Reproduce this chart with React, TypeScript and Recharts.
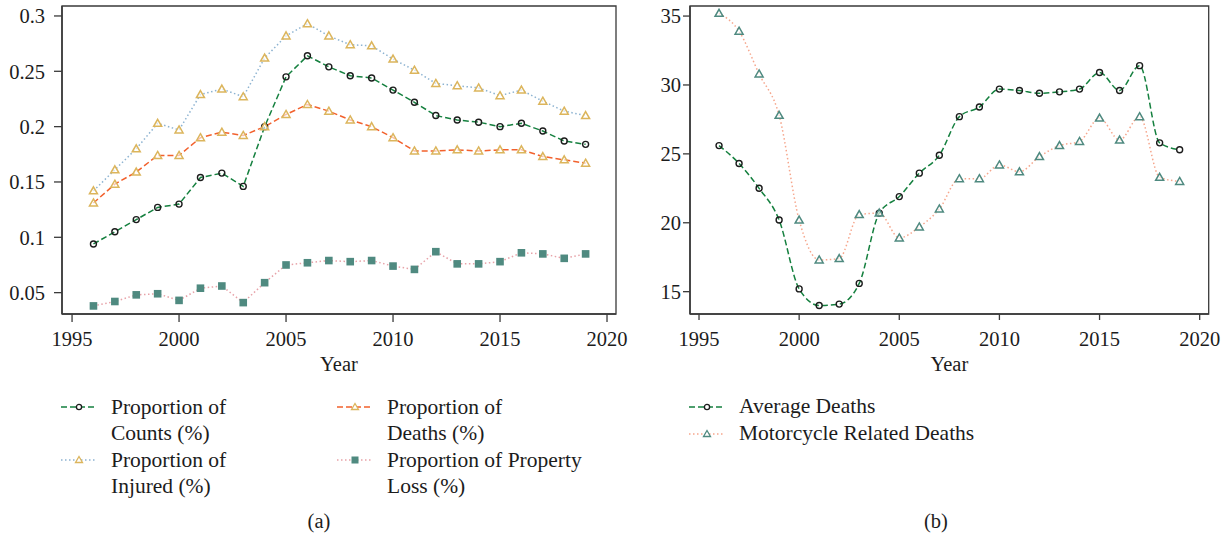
import React from 'react'
import { LineChart, Line, XAxis, YAxis, ReferenceArea } from 'recharts'

// years on both panels
const years = [1996, 1997, 1998, 1999, 2000, 2001, 2002, 2003, 2004, 2005, 2006, 2007, 2008, 2009, 2010, 2011, 2012, 2013, 2014, 2015, 2016, 2017, 2018, 2019]
const yearTicks = [1995, 2000, 2005, 2010, 2015, 2020]

// panel (a)
const countsProp = [0.094, 0.105, 0.116, 0.127, 0.130, 0.154, 0.158, 0.146, 0.200, 0.245, 0.264, 0.254, 0.246, 0.244, 0.233, 0.222, 0.210, 0.206, 0.204, 0.200, 0.203, 0.196, 0.187, 0.184]
const deathsProp = [0.131, 0.148, 0.159, 0.174, 0.174, 0.190, 0.195, 0.192, 0.200, 0.211, 0.220, 0.214, 0.206, 0.200, 0.190, 0.178, 0.178, 0.179, 0.178, 0.179, 0.179, 0.173, 0.170, 0.167]
const injuredProp = [0.142, 0.161, 0.180, 0.203, 0.197, 0.229, 0.234, 0.227, 0.262, 0.282, 0.293, 0.282, 0.274, 0.273, 0.261, 0.251, 0.239, 0.237, 0.235, 0.228, 0.233, 0.223, 0.214, 0.210]
const lossProp = [0.038, 0.042, 0.048, 0.049, 0.043, 0.054, 0.056, 0.041, 0.059, 0.075, 0.077, 0.079, 0.078, 0.079, 0.074, 0.071, 0.087, 0.076, 0.076, 0.078, 0.086, 0.085, 0.081, 0.085]
const propTicks = [0.05, 0.1, 0.15, 0.2, 0.25, 0.3]

// panel (b)
const avgDeaths = [25.6, 24.3, 22.5, 20.2, 15.2, 14.0, 14.1, 15.6, 20.7, 21.9, 23.6, 24.9, 27.7, 28.4, 29.7, 29.6, 29.4, 29.5, 29.7, 30.9, 29.6, 31.4, 25.8, 25.3]
const motoDeaths = [35.2, 33.9, 30.8, 27.8, 20.2, 17.3, 17.4, 20.6, 20.7, 18.9, 19.7, 21.0, 23.2, 23.2, 24.2, 23.7, 24.8, 25.6, 25.9, 27.6, 26.0, 27.7, 23.3, 23.0]
const deathTicks = [15, 20, 25, 30, 35]

const FONT = '"Liberation Serif", "Times New Roman", serif'
const INK = '#1c1c1c'
const AXIS = '#3a3a3a'

const GREEN = '#15803f'
const ORANGE = '#f2612d'
const LIGHTBLUE = '#8db3d1'
const PINK = '#e7a2a8'
const SALMON = '#f6a68c'
const GOLD = '#dcb55c'
const TEAL = '#4f8a80'

const circleDot = (p: any) =>
{
    if (p.cx == null) return <g key={p.index} />
    return <circle key={p.index} cx={p.cx} cy={p.cy} r={3} fill="none" stroke={INK} strokeWidth={1.4} />
}

const triDot = (color: string) => (p: any) =>
{
    if (p.cx == null) return <g key={p.index} />
    const { cx, cy } = p
    return <path key={p.index} d={`M${cx},${cy - 4} L${cx + 4},${cy + 3} L${cx - 4},${cy + 3} Z`} fill="#ffffff" fillOpacity={0.6} stroke={color} strokeWidth={1.5} />
}

const squareDot = (p: any) =>
{
    if (p.cx == null) return <g key={p.index} />
    return <rect key={p.index} x={p.cx - 3.8} y={p.cy - 3.8} width={7.6} height={7.6} fill={TEAL} />
}

const seriesA = [
    { key: 'counts', label: 'Proportion of\nCounts (%)', values: countsProp, stroke: GREEN, dash: '6 3', dot: circleDot, marker: 'circle', mcolor: INK },
    { key: 'deaths', label: 'Proportion of\nDeaths (%)', values: deathsProp, stroke: ORANGE, dash: '6 3', dot: triDot(GOLD), marker: 'tri', mcolor: GOLD },
    { key: 'injured', label: 'Proportion of\nInjured (%)', values: injuredProp, stroke: LIGHTBLUE, dash: '1.5 2.5', dot: triDot(GOLD), marker: 'tri', mcolor: GOLD },
    { key: 'loss', label: 'Proportion of Property\nLoss (%)', values: lossProp, stroke: PINK, dash: '1.5 2.5', dot: squareDot, marker: 'square', mcolor: TEAL },
]

const seriesB = [
    { key: 'avg', label: 'Average Deaths', values: avgDeaths, stroke: GREEN, dash: '6 3', dot: circleDot, marker: 'circle', mcolor: INK },
    { key: 'moto', label: 'Motorcycle Related Deaths', values: motoDeaths, stroke: SALMON, dash: '1.5 2.5', dot: triDot(TEAL), marker: 'tri', mcolor: TEAL },
]

const dataA = years.map((year, i) => ({
    year,
    counts: countsProp[i],
    deaths: deathsProp[i],
    injured: injuredProp[i],
    loss: lossProp[i],
}))

const dataB = years.map((year, i) => ({
    year,
    avg: avgDeaths[i],
    moto: motoDeaths[i],
}))

const tickStyle = { fontFamily: FONT, fontSize: 20.5, fill: INK }

const LegendSample = ({ s }: any) =>
{
    const cy = 6
    return (
        <svg width={36} height={12} style={{ display: 'block' }}>
            <line x1={0} y1={cy} x2={36} y2={cy} stroke={s.stroke} strokeWidth={1.5} strokeDasharray={s.dash} />
            {s.marker === 'circle' && <circle cx={18} cy={cy} r={2.6} fill="#fff" stroke={s.mcolor} strokeWidth={1.3} />}
            {s.marker === 'tri' && <path d={`M18,${cy - 3.5} L21.5,${cy + 2.5} L14.5,${cy + 2.5} Z`} fill="#fff" stroke={s.mcolor} strokeWidth={1.3} />}
            {s.marker === 'square' && <rect x={14.5} y={cy - 3.5} width={7} height={7} fill={s.mcolor} />}
        </svg>
    )
}

const LegendItem = ({ s, left, top, lineHeight }: any) => (
    <div style={{ position: 'absolute', left, top, display: 'flex', alignItems: 'flex-start' }}>
        <div style={{ marginTop: lineHeight / 2 - 6, width: 50 }}>
            <LegendSample s={s} />
        </div>
        <div style={{ whiteSpace: 'pre', lineHeight: `${lineHeight}px`, fontSize: 21.5, color: INK }}>{s.label}</div>
    </div>
)

const frame = (xd: number[], yd: number[]) => (
    <ReferenceArea x1={xd[0]} x2={xd[1]} y1={yd[0]} y2={yd[1]} fill="none" stroke={AXIS} strokeWidth={1.3} ifOverflow="visible" />
)

const App = () =>
{
    const xDomA = [1994.53, 2020.42]
    const yDomA = [0.0307, 0.309]
    const xDomB = [1994.55, 2020.45]
    const yDomB = [13.38, 35.73]

    return (
        <div style={{ position: 'absolute', left: 0, top: 0, width: 1229, height: 539, background: '#fff', fontFamily: FONT }}>
            <div style={{ position: 'absolute', left: 0, top: 0 }}>
                <LineChart width={640} height={390} data={dataA} margin={{ top: 6, right: 24, bottom: 16, left: 0 }}>
                    <XAxis dataKey="year" type="number" domain={xDomA} ticks={yearTicks} allowDataOverflow
                        height={60} tick={tickStyle} tickSize={8} tickMargin={9}
                        tickLine={{ stroke: AXIS, strokeWidth: 1.3 }} axisLine={{ stroke: AXIS, strokeWidth: 1.6 }}
                        label={{ value: 'Year', position: 'insideBottom', offset: 3, style: tickStyle }} />
                    <YAxis type="number" domain={yDomA} ticks={propTicks} allowDataOverflow width={62}
                        tick={tickStyle} tickSize={8} tickMargin={9}
                        tickLine={{ stroke: AXIS, strokeWidth: 1.3 }} axisLine={{ stroke: AXIS, strokeWidth: 1.6 }} />
                    {frame(xDomA, yDomA)}
                    {seriesA.map(s => (
                        <Line key={s.key} dataKey={s.key} type="linear" stroke={s.stroke} strokeWidth={1.5}
                            strokeDasharray={s.dash} dot={s.dot} activeDot={false} isAnimationActive={false} />
                    ))}
                </LineChart>
            </div>

            <div style={{ position: 'absolute', left: 620, top: 0 }}>
                <LineChart width={609} height={390} data={dataB} margin={{ top: 6, right: 20.3, bottom: 16, left: 0 }}>
                    <XAxis dataKey="year" type="number" domain={xDomB} ticks={yearTicks} allowDataOverflow
                        height={60} tick={tickStyle} tickSize={6} tickMargin={11}
                        tickLine={{ stroke: AXIS, strokeWidth: 1.3 }} axisLine={{ stroke: AXIS, strokeWidth: 1.6 }}
                        label={{ value: 'Year', position: 'insideBottom', offset: 3, style: tickStyle }} />
                    <YAxis type="number" domain={yDomB} ticks={deathTicks} allowDataOverflow width={70}
                        tick={tickStyle} tickSize={7} tickMargin={2}
                        tickLine={{ stroke: AXIS, strokeWidth: 1.3 }} axisLine={{ stroke: AXIS, strokeWidth: 1.6 }} />
                    {frame(xDomB, yDomB)}
                    {seriesB.map(s => (
                        <Line key={s.key} dataKey={s.key} type="monotone" stroke={s.stroke} strokeWidth={1.5}
                            strokeDasharray={s.dash} dot={s.dot} activeDot={false} isAnimationActive={false} />
                    ))}
                </LineChart>
            </div>

            {/* legend (a) */}
            <LegendItem s={seriesA[0]} left={61} top={394} lineHeight={26} />
            <LegendItem s={seriesA[1]} left={337} top={394} lineHeight={26} />
            <LegendItem s={seriesA[2]} left={61} top={447} lineHeight={26} />
            <LegendItem s={seriesA[3]} left={337} top={447} lineHeight={26} />

            {/* legend (b) */}
            <LegendItem s={seriesB[0]} left={689} top={393} lineHeight={27} />
            <LegendItem s={seriesB[1]} left={689} top={420} lineHeight={27} />

            <div style={{ position: 'absolute', left: 269, width: 100, top: 509, textAlign: 'center', fontSize: 20.5, lineHeight: '24px', color: INK }}>(a)</div>
            <div style={{ position: 'absolute', left: 886, width: 100, top: 509, textAlign: 'center', fontSize: 20.5, lineHeight: '24px', color: INK }}>(b)</div>
        </div>
    )
}

export default App
